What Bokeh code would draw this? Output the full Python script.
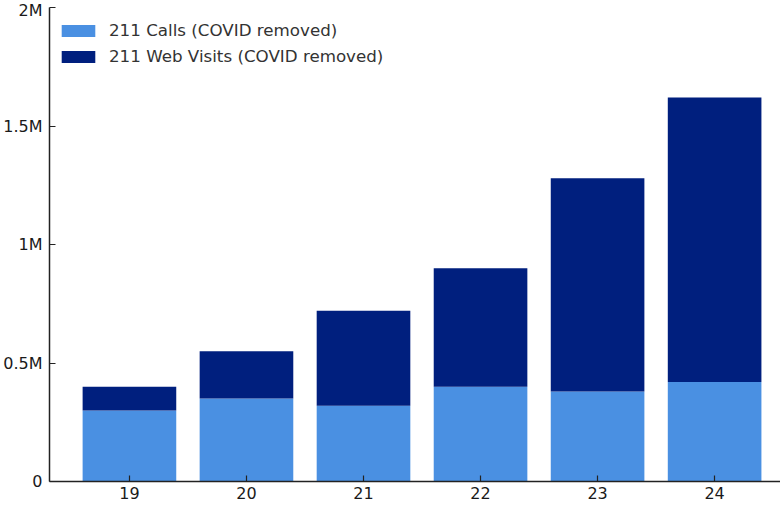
from bokeh.plotting import figure
from bokeh.models import ColumnDataSource, Range1d, FixedTicker, Legend
from bokeh.embed import file_html
from bokeh.resources import INLINE

years = ["19", "20", "21", "22", "23", "24"]
calls = [300000, 350000, 320000, 400000, 380000, 420000]
web_visits = [100000, 200000, 400000, 500000, 900000, 1200000]
series_names = ["211 Calls (COVID removed)", "211 Web Visits (COVID removed)"]
y_ticks = [0, 500000, 1000000, 1500000, 2000000]
y_tick_labels = ["0", "0.5M", "1M", "1.5M", "2M"]

colors = ["#4A90E2", "#001F7E"]
FONT = "DejaVu Sans"

x_pos = list(range(len(years)))
src = ColumnDataSource(dict(x=x_pos, calls=calls, web=web_visits))

p = figure(width=780, height=505, output_backend="svg", toolbar_location=None,
           x_range=Range1d(-0.683, 5.563), y_range=Range1d(0, 2000000),
           min_border_left=48, min_border_right=0, min_border_top=7, min_border_bottom=24)
p.outline_line_color = None
p.xgrid.visible = False
p.ygrid.visible = False

r = p.vbar_stack(["calls", "web"], x="x", width=0.8, color=colors, source=src,
                 line_color=None)

legend = Legend(items=[(series_names[0], [r[0]]), (series_names[1], [r[1]])],
                location=(8, 415))
legend.border_line_alpha = 0
legend.background_fill_alpha = 0
legend.padding = 0
legend.margin = 0
legend.glyph_width = 42
legend.glyph_height = 15
legend.label_height = 20
legend.spacing = 6
legend.label_standoff = 10
legend.label_text_font = FONT
legend.label_text_font_size = "16.7px"
legend.label_text_color = "#333333"
p.add_layout(legend, "center")

for ax in (p.xaxis[0], p.yaxis[0]):
    ax.axis_line_width = 1.5
    ax.axis_line_color = "#222222"
    ax.major_tick_in = 6
    ax.major_tick_out = 0
    ax.major_tick_line_color = "#222222"
    ax.major_tick_line_width = 1.2
    ax.minor_tick_line_color = None
    ax.major_label_text_font = FONT
    ax.major_label_text_font_size = "16px"
    ax.major_label_text_color = "#1a1a1a"

p.xaxis.ticker = FixedTicker(ticks=x_pos)
p.xaxis.major_label_overrides = {i: y for i, y in zip(x_pos, years)}
p.xaxis.major_label_standoff = 5
p.yaxis.ticker = FixedTicker(ticks=y_ticks)
p.yaxis.major_label_overrides = {t: l for t, l in zip(y_ticks, y_tick_labels)}
p.yaxis.major_label_standoff = 7

open("out.html", "w").write(file_html(p, INLINE))
